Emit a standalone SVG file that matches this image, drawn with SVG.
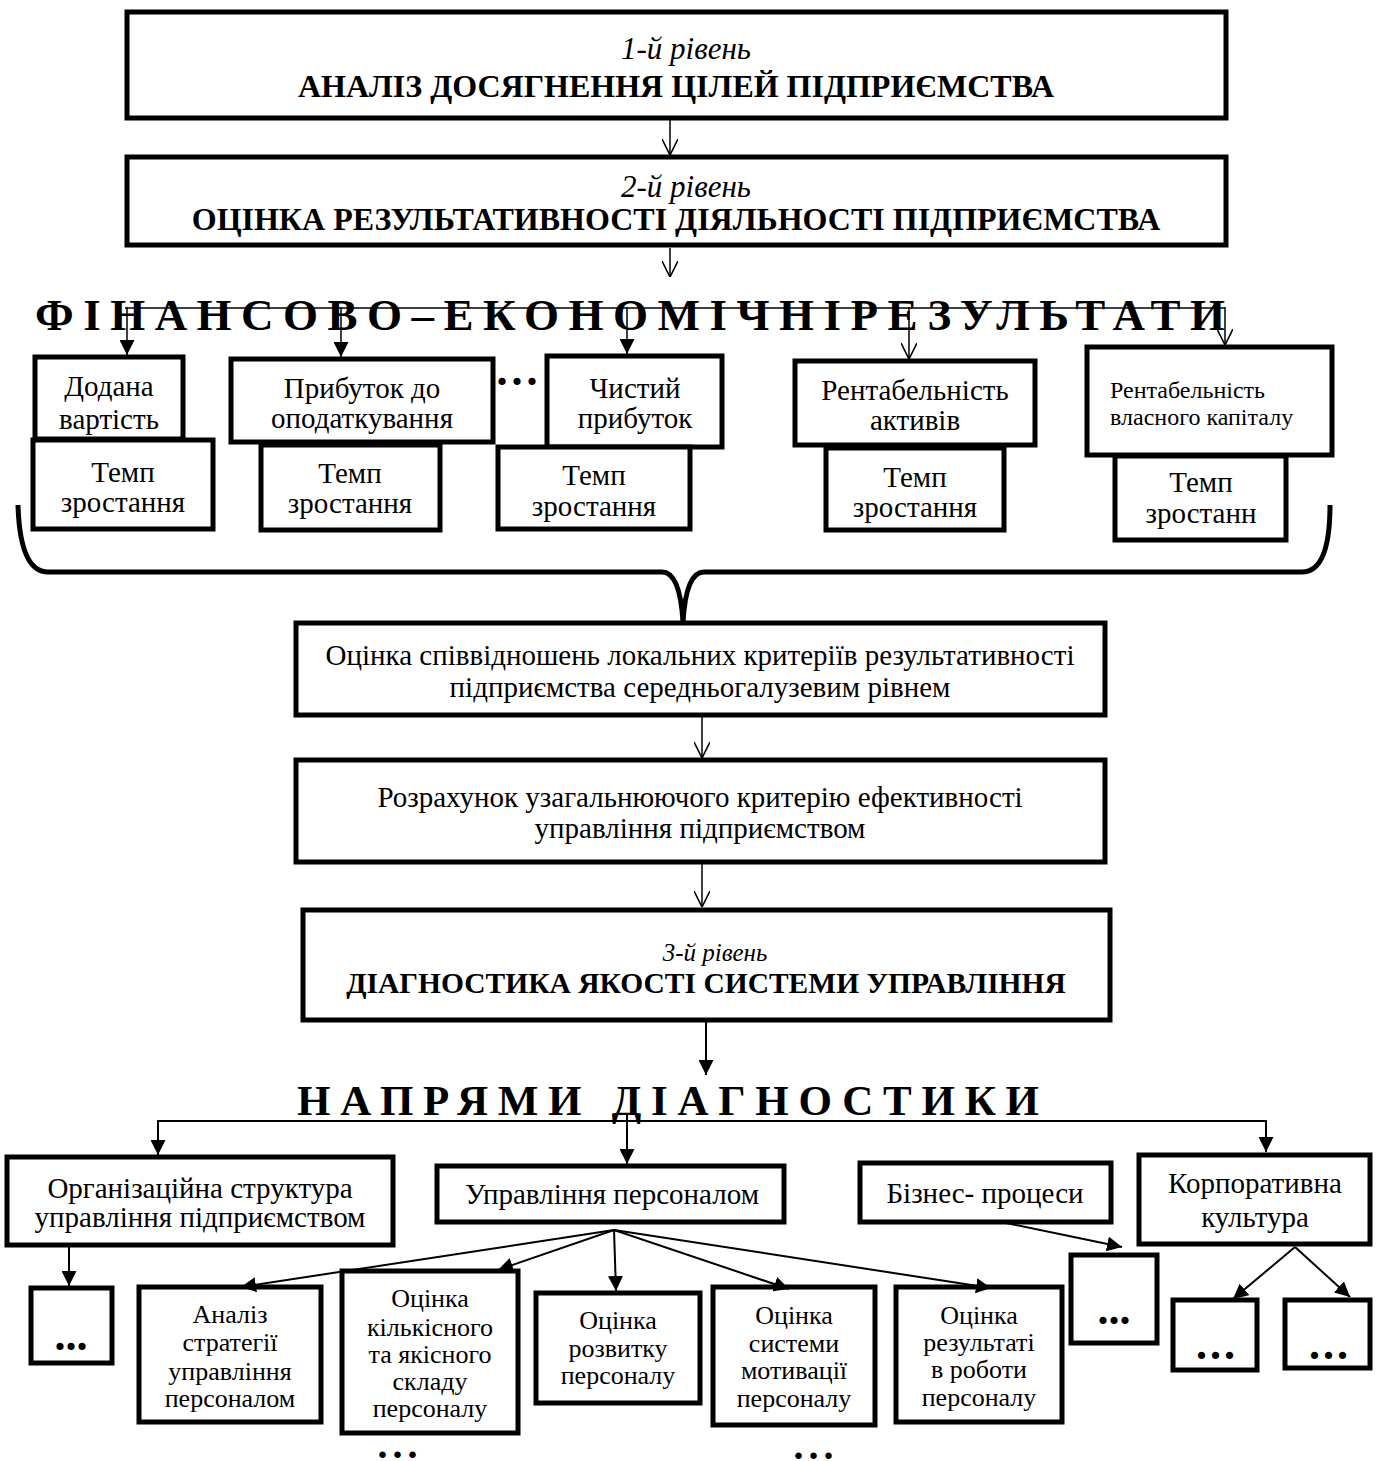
<svg xmlns="http://www.w3.org/2000/svg" width="1376" height="1461" viewBox="0 0 1376 1461">
<style>
.box{fill:#fff;stroke:#000;stroke-width:5}
.t{font-family:"Liberation Serif","Times New Roman",serif;font-size:29px;fill:#000;text-anchor:middle}
.s{font-family:"Liberation Serif","Times New Roman",serif;font-size:26px;fill:#000;text-anchor:middle}
.it{font-family:"Liberation Serif","Times New Roman",serif;font-size:31px;font-style:italic;fill:#000;text-anchor:middle}
.bt{font-family:"Liberation Serif","Times New Roman",serif;font-size:32px;font-weight:bold;fill:#000;text-anchor:middle}
.big{font-family:"Liberation Serif","Times New Roman",serif;font-size:45px;font-weight:bold;fill:#000}
.dots{font-family:"Liberation Serif","Times New Roman",serif;font-size:44px;font-weight:bold;fill:#000;text-anchor:middle}
.c{fill:none;stroke:#000;stroke-width:2}
.co{fill:none;stroke:#000;stroke-width:1.5}
</style>
<defs>
<marker id="af" viewBox="0 0 10 10" refX="10" refY="5" markerWidth="15" markerHeight="15" markerUnits="userSpaceOnUse" orient="auto"><path d="M0,0 L10,5 L0,10 z" fill="#000"/></marker>
<marker id="ao" viewBox="0 0 10 10" refX="10" refY="5" markerWidth="16" markerHeight="16" markerUnits="userSpaceOnUse" orient="auto"><path d="M0,0 L10,5 L0,10" fill="none" stroke="#000" stroke-width="1"/></marker>
</defs>
<rect width="1376" height="1461" fill="#fff"/>

<g id="level1">
<rect class="box" x="127" y="12" width="1099" height="106"/>
<text class="it" x="686" y="59">1-й рівень</text>
<text class="bt" x="676" y="97">АНАЛІЗ ДОСЯГНЕННЯ ЦІЛЕЙ ПІДПРИЄМСТВА</text>
</g>
<g id="level2">
<rect class="box" x="127" y="157" width="1099" height="88"/>
<text class="it" x="686" y="197">2-й рівень</text>
<text class="bt" x="676" y="230">ОЦІНКА РЕЗУЛЬТАТИВНОСТІ ДІЯЛЬНОСТІ ПІДПРИЄМСТВА</text>
</g>

<g id="fin-title">
<text class="big" x="35" y="330" textLength="1190" lengthAdjust="spacing">ФІНАНСОВО–ЕКОНОМІЧНІРЕЗУЛЬТАТИ</text>
</g>

<g id="dodana">
<rect class="box" x="35" y="357" width="148" height="82"/>
<text class="t" x="109" y="396">Додана</text>
<text class="t" x="109" y="429">вартість</text>
</g>
<g id="temp1">
<rect class="box" x="33" y="440" width="180" height="89"/>
<text class="t" x="123" y="482">Темп</text>
<text class="t" x="123" y="512">зростання</text>
</g>
<g id="prybutok">
<rect class="box" x="231" y="359" width="262" height="83"/>
<text class="t" x="362" y="398">Прибуток до</text>
<text class="t" x="362" y="428">оподаткування</text>
</g>
<g id="temp2">
<rect class="box" x="261" y="445" width="179" height="85"/>
<text class="t" x="350" y="483">Темп</text>
<text class="t" x="350" y="513">зростання</text>
</g>
<g id="fin-dots">
<text class="dots" x="519" y="385" letter-spacing="4">...</text>
</g>
<g id="chystyi">
<rect class="box" x="547" y="356" width="175" height="91"/>
<text class="t" x="635" y="398">Чистий</text>
<text class="t" x="635" y="428">прибуток</text>
</g>
<g id="temp3">
<rect class="box" x="498" y="447" width="192" height="82"/>
<text class="t" x="594" y="485">Темп</text>
<text class="t" x="594" y="516">зростання</text>
</g>
<g id="rent-aktyviv">
<rect class="box" x="795" y="361" width="240" height="84"/>
<text class="t" x="915" y="400">Рентабельність</text>
<text class="t" x="915" y="430">активів</text>
</g>
<g id="temp4">
<rect class="box" x="826" y="448" width="178" height="82"/>
<text class="t" x="915" y="487">Темп</text>
<text class="t" x="915" y="517">зростання</text>
</g>
<g id="rent-kapitalu">
<rect class="box" x="1087" y="347" width="245" height="108"/>
<text x="1110" y="398" style="font-family:'Liberation Serif','Times New Roman',serif;font-size:24px">Рентабельність</text>
<text x="1110" y="425" style="font-family:'Liberation Serif','Times New Roman',serif;font-size:24px">власного капіталу</text>
</g>
<g id="temp5">
<rect class="box" x="1115" y="456" width="171" height="84"/>
<text class="t" x="1201" y="492">Темп</text>
<text class="t" x="1201" y="523">зростанн</text>
</g>

<g id="brace">
<path d="M18,505 Q20,572 48,572 L662,572 Q680,572 683,622 Q686,572 704,572 L1302,572 Q1330,572 1330,505" fill="none" stroke="#000" stroke-width="5"/>
</g>

<g id="spivvidnoshen">
<rect class="box" x="296" y="623" width="809" height="92"/>
<text class="t" x="700" y="665">Оцінка співвідношень локальних критеріїв результативності</text>
<text class="t" x="700" y="697">підприємства середньогалузевим рівнем</text>
</g>
<g id="rozrakhunok">
<rect class="box" x="296" y="760" width="809" height="102"/>
<text class="t" x="700" y="807">Розрахунок узагальнюючого критерію ефективності</text>
<text class="t" x="700" y="838">управління підприємством</text>
</g>
<g id="level3">
<rect class="box" x="303" y="910" width="807" height="110"/>
<text class="it" x="715" y="961" style="font-size:25px">3-й рівень</text>
<text class="bt" x="706" y="993" style="font-size:29.5px">ДІАГНОСТИКА ЯКОСТІ СИСТЕМИ УПРАВЛІННЯ</text>
</g>

<g id="napriamy-title">
<text class="big" x="297" y="1115" style="font-size:43px" textLength="742" lengthAdjust="spacing">НАПРЯМИ ДІАГНОСТИКИ</text>
</g>

<g id="org">
<rect class="box" x="7" y="1157" width="386" height="88"/>
<text class="t" x="200" y="1198">Організаційна структура</text>
<text class="t" x="200" y="1227">управління підприємством</text>
</g>
<g id="personal">
<rect class="box" x="437" y="1166" width="347" height="56"/>
<text class="t" x="612" y="1204">Управління персоналом</text>
</g>
<g id="biznes">
<rect class="box" x="860" y="1163" width="251" height="59"/>
<text class="t" x="985" y="1203">Бізнес- процеси</text>
</g>
<g id="korp">
<rect class="box" x="1139" y="1155" width="231" height="89"/>
<text class="t" x="1255" y="1193">Корпоративна</text>
<text class="t" x="1255" y="1227">культура</text>
</g>
<g id="org-dots">
<rect class="box" x="31" y="1288" width="81" height="75"/>
<text class="dots" x="71" y="1350">...</text>
</g>
<g id="analiz">
<rect class="box" x="139" y="1287" width="182" height="135"/>
<text class="s" x="230" y="1323">Аналіз</text>
<text class="s" x="230" y="1351">стратегії</text>
<text class="s" x="230" y="1380">управління</text>
<text class="s" x="230" y="1407">персоналом</text>
</g>
<g id="kilkisnyi">
<rect class="box" x="342" y="1271" width="176" height="162"/>
<text class="s" x="430" y="1307">Оцінка</text>
<text class="s" x="430" y="1336">кількісного</text>
<text class="s" x="430" y="1363">та якісного</text>
<text class="s" x="430" y="1390">складу</text>
<text class="s" x="430" y="1417">персоналу</text>
</g>
<g id="rozvytok">
<rect class="box" x="536" y="1293" width="164" height="110"/>
<text class="s" x="618" y="1329">Оцінка</text>
<text class="s" x="618" y="1357">розвитку</text>
<text class="s" x="618" y="1384">персоналу</text>
</g>
<g id="motyvatsiia">
<rect class="box" x="713" y="1287" width="162" height="138"/>
<text class="s" x="794" y="1324">Оцінка</text>
<text class="s" x="794" y="1352">системи</text>
<text class="s" x="794" y="1379">мотивації</text>
<text class="s" x="794" y="1407">персоналу</text>
</g>
<g id="rezultaty">
<rect class="box" x="896" y="1287" width="166" height="135"/>
<text class="s" x="979" y="1324">Оцінка</text>
<text class="s" x="979" y="1351">результаті</text>
<text class="s" x="979" y="1378">в роботи</text>
<text class="s" x="979" y="1406">персоналу</text>
</g>
<g id="biznes-dots">
<rect class="box" x="1071" y="1255" width="86" height="88"/>
<text class="dots" x="1114" y="1324">...</text>
</g>
<g id="korp-dots1">
<rect class="box" x="1173" y="1300" width="84" height="70"/>
<text class="dots" x="1217" y="1359" letter-spacing="3">...</text>
</g>
<g id="korp-dots2">
<rect class="box" x="1285" y="1300" width="85" height="68"/>
<text class="dots" x="1330" y="1359" letter-spacing="3">...</text>
</g>
<g id="bottom-dots">
<text class="dots" x="400" y="1458" style="font-size:40px" letter-spacing="5">...</text>
<text class="dots" x="816" y="1459" style="font-size:40px" letter-spacing="5">...</text>
</g>

<g id="connectors">
<line class="co" x1="670" y1="118" x2="670" y2="155" marker-end="url(#ao)"/>
<line class="co" x1="670" y1="248" x2="670" y2="277" marker-end="url(#ao)"/>
<line class="co" x1="125" y1="308" x2="1225" y2="308"/>
<line class="co" x1="127" y1="307" x2="127" y2="355" marker-end="url(#af)"/>
<line class="co" x1="341" y1="307" x2="341" y2="357" marker-end="url(#af)"/>
<line class="co" x1="627" y1="307" x2="627" y2="354" marker-end="url(#af)"/>
<line class="co" x1="909" y1="307" x2="909" y2="359" marker-end="url(#ao)"/>
<line class="co" x1="1225" y1="307" x2="1225" y2="345" marker-end="url(#ao)"/>
<line class="co" x1="702" y1="716" x2="702" y2="758" marker-end="url(#ao)"/>
<line class="co" x1="702" y1="863" x2="702" y2="907" marker-end="url(#ao)"/>
<line class="c" x1="706" y1="1022" x2="706" y2="1075" marker-end="url(#af)"/>
<line class="c" x1="158" y1="1121" x2="1266" y2="1121"/>
<line class="c" x1="158" y1="1120" x2="158" y2="1155" marker-end="url(#af)"/>
<line class="c" x1="627" y1="1113" x2="627" y2="1164" marker-end="url(#af)"/>
<line class="c" x1="1266" y1="1120" x2="1266" y2="1152" marker-end="url(#af)"/>
<line class="c" x1="69" y1="1247" x2="69" y2="1286" marker-end="url(#af)"/>
<line class="c" x1="614" y1="1230" x2="241" y2="1287" marker-end="url(#af)"/>
<line class="c" x1="614" y1="1230" x2="498" y2="1270" marker-end="url(#af)"/>
<line class="c" x1="614" y1="1230" x2="616" y2="1291" marker-end="url(#af)"/>
<line class="c" x1="614" y1="1230" x2="789" y2="1289" marker-end="url(#af)"/>
<line class="c" x1="614" y1="1230" x2="991" y2="1288" marker-end="url(#af)"/>
<line class="c" x1="1006" y1="1223" x2="1122" y2="1247" marker-end="url(#af)"/>
<line class="c" x1="1295" y1="1247" x2="1233" y2="1299" marker-end="url(#af)"/>
<line class="c" x1="1295" y1="1247" x2="1350" y2="1297" marker-end="url(#af)"/>
</g>
</svg>
